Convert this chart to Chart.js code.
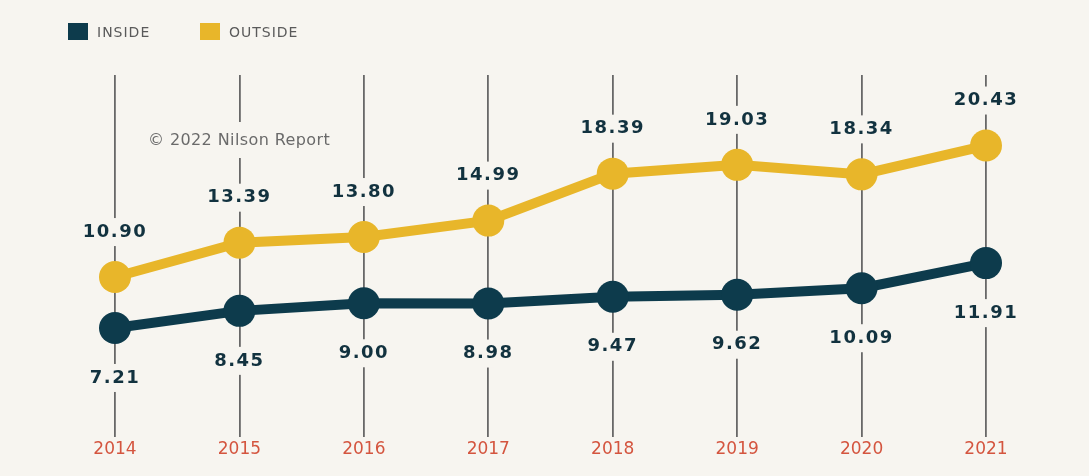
<!DOCTYPE html>
<html>
<head>
<meta charset="utf-8">
<script src="https://cdn.jsdelivr.net/npm/chart.js@4/dist/chart.umd.min.js"></script>
<style>
  html, body { margin: 0; padding: 0; background: #f7f5f0; }
  #wrap { position: relative; width: 1089px; height: 476px; }
  #legend { position: absolute; left: 68px; top: 23px; display: flex; font-family: "DejaVu Sans", sans-serif; font-size: 14px; letter-spacing: 1px; color: #5a5a5a; }
  .item { display: flex; align-items: center; min-width: 132px; }
  .swatch { width: 20px; height: 17px; margin-right: 9px; }
</style>
</head>
<body>
<div id="wrap">
  <canvas id="chart" width="1089" height="476"></canvas>
  <div id="legend"></div>
</div>
<script>
const years = ["2014", "2015", "2016", "2017", "2018", "2019", "2020", "2021"];
const inside = [7.21, 8.45, 9.00, 8.98, 9.47, 9.62, 10.09, 11.91];
const outside = [10.90, 13.39, 13.80, 14.99, 18.39, 19.03, 18.34, 20.43];

const NAVY = "#0d3b4c";
const GOLD = "#e8b62a";
const BG = "#f7f5f0";
const LABEL_FONT = "bold 18px 'DejaVu Sans', sans-serif";

// labels sit above the outside line and below the inside line
function labelY(dsIndex, y) {
    return dsIndex === 0 ? y + 50 : y - 45;
}

const valueLabels = {
    id: "valueLabels",
    beforeDatasetsDraw(chart) {
        // knock gaps out of the vertical grid lines behind the labels
        const ctx = chart.ctx;
        ctx.save();
        ctx.fillStyle = BG;
        chart.data.datasets.forEach((ds, i) => {
            chart.getDatasetMeta(i).data.forEach(pt => {
                ctx.fillRect(pt.x - 6, labelY(i, pt.y) - 14, 12, 28);
            });
        });
        const x15 = chart.scales.x.getPixelForValue(1);
        ctx.fillRect(x15 - 6, 122, 12, 36);
        ctx.restore();
    },
    afterDatasetsDraw(chart) {
        const ctx = chart.ctx;
        ctx.save();
        ctx.font = LABEL_FONT;
        ctx.letterSpacing = "1.5px";
        ctx.fillStyle = "#12323f";
        ctx.textAlign = "center";
        ctx.textBaseline = "middle";
        chart.data.datasets.forEach((ds, i) => {
            chart.getDatasetMeta(i).data.forEach((pt, j) => {
                ctx.fillText(ds.data[j].toFixed(2), pt.x, labelY(i, pt.y));
            });
        });
        ctx.letterSpacing = "0.4px";
        ctx.font = "16px 'DejaVu Sans', sans-serif";
        ctx.fillStyle = "#6a6a6a";
        ctx.textAlign = "left";
        ctx.fillText("\u00A9 2022 Nilson Report", 148, 141);
        ctx.restore();
    }
};

const chart = new Chart(document.getElementById("chart"), {
    type: "line",
    data: {
        labels: years,
        datasets: [
            {
                label: "INSIDE",
                data: inside,
                borderColor: NAVY,
                backgroundColor: NAVY,
                borderWidth: 10,
                pointRadius: 16,
                pointBorderWidth: 0,
                pointBackgroundColor: NAVY
            },
            {
                label: "OUTSIDE",
                data: outside,
                borderColor: GOLD,
                backgroundColor: GOLD,
                borderWidth: 10,
                pointRadius: 16,
                pointBorderWidth: 0,
                pointBackgroundColor: GOLD
            }
        ]
    },
    options: {
        responsive: false,
        animation: false,
        layout: { padding: { top: 75, left: 115, right: 103, bottom: 0 } },
        plugins: {
            legend: { display: false },
            tooltip: { enabled: false }
        },
        scales: {
            x: {
                offset: false,
                border: { display: false },
                grid: { color: "#686868", lineWidth: 1.8, drawTicks: false },
                ticks: {
                    color: "#d4553f",
                    font: { family: "'DejaVu Sans', sans-serif", size: 17 },
                    padding: 2,
                    maxRotation: 0
                },
                afterFit(scale) {
                    scale.height = 39;
                }
            },
            y: {
                display: false,
                min: -0.69,
                max: 25.54
            }
        }
    },
    plugins: [valueLabels]
});

// legend built from the datasets
const legend = document.getElementById("legend");
chart.data.datasets.forEach(ds => {
    const item = document.createElement("div");
    item.className = "item";
    const sw = document.createElement("span");
    sw.className = "swatch";
    sw.style.background = ds.backgroundColor;
    const txt = document.createElement("span");
    txt.innerText = ds.label;
    item.appendChild(sw);
    item.appendChild(txt);
    legend.appendChild(item);
});
</script>
</body>
</html>
